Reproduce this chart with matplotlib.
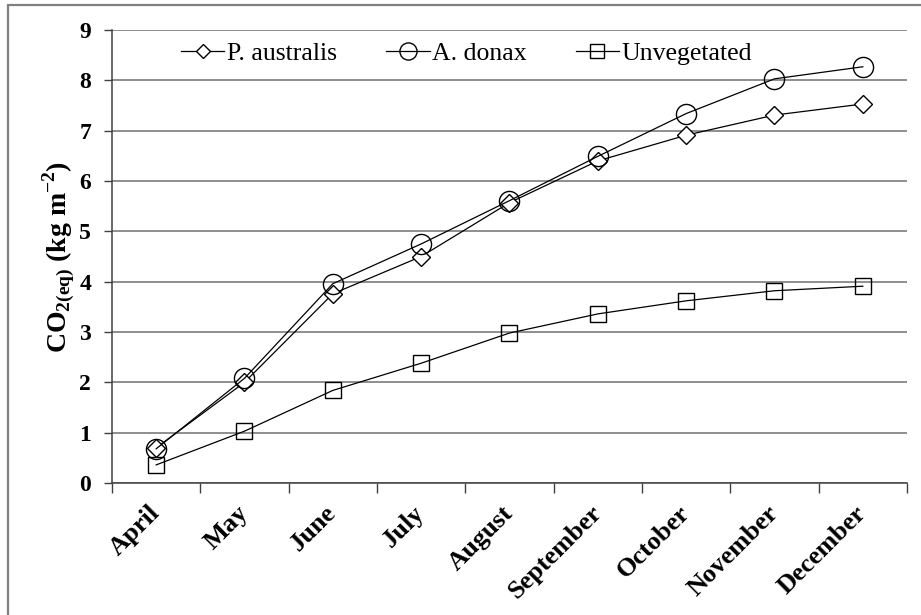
import matplotlib
matplotlib.use("Agg")
import matplotlib.pyplot as plt
from matplotlib.patches import Rectangle

months = ["April", "May", "June", "July", "August", "September",
          "October", "November", "December"]
p_australis = [0.70, 2.00, 3.76, 4.50, 5.57, 6.40, 6.91, 7.31, 7.53]
a_donax = [0.68, 2.08, 3.96, 4.75, 5.61, 6.49, 7.34, 8.03, 8.27]
unvegetated = [0.36, 1.03, 1.84, 2.38, 2.98, 3.36, 3.62, 3.82, 3.91]

plt.rcParams['font.family'] = ['Liberation Serif', 'DejaVu Serif']
plt.rcParams['mathtext.fontset'] = 'custom'
plt.rcParams['mathtext.rm'] = 'Liberation Serif'
plt.rcParams['mathtext.bf'] = 'Liberation Serif:bold'

fig = plt.figure(figsize=(9.21, 6.15), dpi=100)
ax = fig.add_axes([0.1216, 0.2146, 0.8632, 0.7366])

x = list(range(len(months)))
ax.plot(x, p_australis, color='black', lw=0.9, marker='D', ms=8.8,
        mfc='white', mec='black', mew=1, label='P. australis')
ax.plot(x, a_donax, color='black', lw=0.9, marker='o', ms=14.5,
        mfc='none', mec='black', mew=1, label='A. donax')
ax.plot(x, unvegetated, color='black', lw=0.9, marker='s', ms=11.5,
        mfc='none', mec='black', mew=1, label='Unvegetated')

ax.set_xlim(-0.5, len(months) - 0.5)
ax.set_ylim(0, 9)
ax.set_yticks(range(0, 10))
ax.yaxis.grid(True, color='#707070', lw=1.1)
ax.set_axisbelow(True)

# category ticks sit on the boundaries between months
ax.set_xticks([i - 0.5 for i in range(len(months) + 1)], minor=False)
ax.set_xticklabels([])
ax.set_xticks(x, minor=True)
ax.set_xticklabels(months, minor=True, rotation=45, ha='right', va='center',
                   rotation_mode='anchor', fontsize=19, fontweight='bold')
ax.tick_params(axis='x', which='minor', length=0, pad=19)
ax.tick_params(axis='x', which='major', length=7, width=1, color='#404040')
ax.tick_params(axis='y', length=6, width=1, color='#404040', labelsize=17,
               pad=9)
for lab in ax.get_yticklabels():
    lab.set_fontweight('bold')

for side in ['top', 'right']:
    ax.spines[side].set_visible(False)
for side in ['left', 'bottom']:
    ax.spines[side].set_color('#404040')
    ax.spines[side].set_linewidth(1.1)

ax.set_ylabel(r'$\mathbf{CO_{2(eq)}}$ (kg m$^{\mathbf{-2}}$)',
              fontsize=20, fontweight='bold', labelpad=2)

ax.legend(loc='center', bbox_to_anchor=(0.446, 0.949), ncol=3,
          frameon=False, fontsize=18.5, handlelength=1.7, handletextpad=0.1,
          columnspacing=1.9, markerscale=0.85)

# grey frame around the whole figure
fig.patches.append(Rectangle((8 / 921, -0.2), 1.3, 1.2 - 4.5 / 615,
                             transform=fig.transFigure, fill=False,
                             edgecolor='#808080', lw=1.6, clip_on=False))

fig.savefig('out.png', dpi=100)
